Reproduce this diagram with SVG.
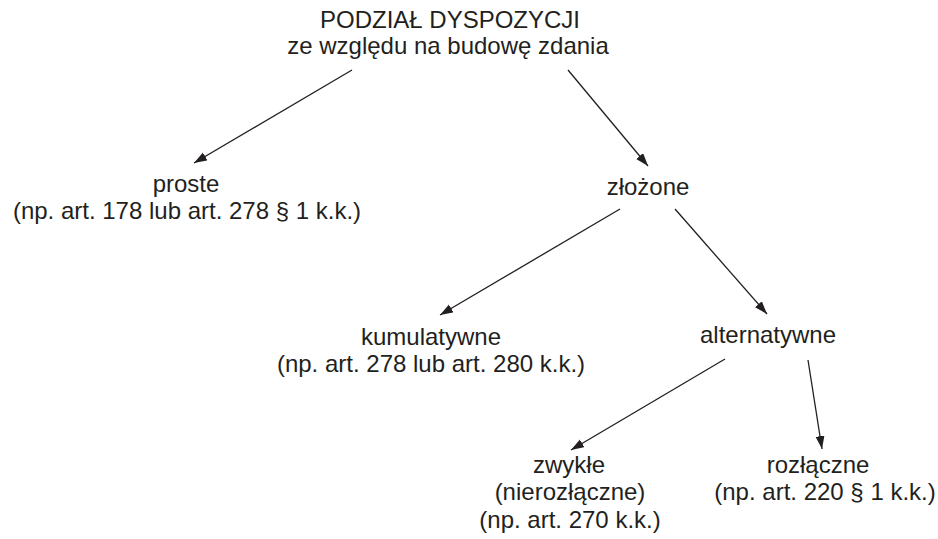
<svg xmlns="http://www.w3.org/2000/svg" width="938" height="539" viewBox="0 0 938 539">
<style>
text{font-family:"Liberation Sans",Arial,sans-serif;font-size:24px;fill:#231f20;text-anchor:middle}
.c line{stroke:#231f20;stroke-width:1.3;fill:none;marker-end:url(#ah)}
</style>
<defs>
<marker id="ah" markerUnits="userSpaceOnUse" markerWidth="14" markerHeight="10" refX="13" refY="4.5" orient="auto">
<path d="M0,0 L13,4.5 L0,9 Z" fill="#231f20"/>
</marker>
</defs>
<rect width="938" height="539" fill="#fff"/>
<g id="root">
<text x="450" y="28">PODZIAŁ DYSPOZYCJI</text>
<text x="448" y="54">ze względu na budowę zdania</text>
</g>
<g id="proste">
<text x="186" y="192">proste</text>
<text x="187" y="219">(np. art. 178 lub art. 278 § 1 k.k.)</text>
</g>
<g id="zlozone">
<text x="648" y="195">złożone</text>
</g>
<g id="kumulatywne">
<text x="431" y="345">kumulatywne</text>
<text x="431" y="372">(np. art. 278 lub art. 280 k.k.)</text>
</g>
<g id="alternatywne">
<text x="768" y="343">alternatywne</text>
</g>
<g id="zwykle">
<text x="569" y="473">zwykłe</text>
<text x="570" y="500">(nierozłączne)</text>
<text x="570" y="528">(np. art. 270 k.k.)</text>
</g>
<g id="rozlaczne">
<text x="818" y="473">rozłączne</text>
<text x="825" y="500">(np. art. 220 § 1 k.k.)</text>
</g>
<g class="c" id="connectors">
<line x1="352" y1="70" x2="194" y2="163"/>
<line x1="568" y1="70" x2="648" y2="166"/>
<line x1="620" y1="209" x2="440" y2="315"/>
<line x1="675" y1="209" x2="767" y2="314"/>
<line x1="725" y1="359" x2="571" y2="450"/>
<line x1="808" y1="360" x2="822" y2="449"/>
</g>
</svg>
